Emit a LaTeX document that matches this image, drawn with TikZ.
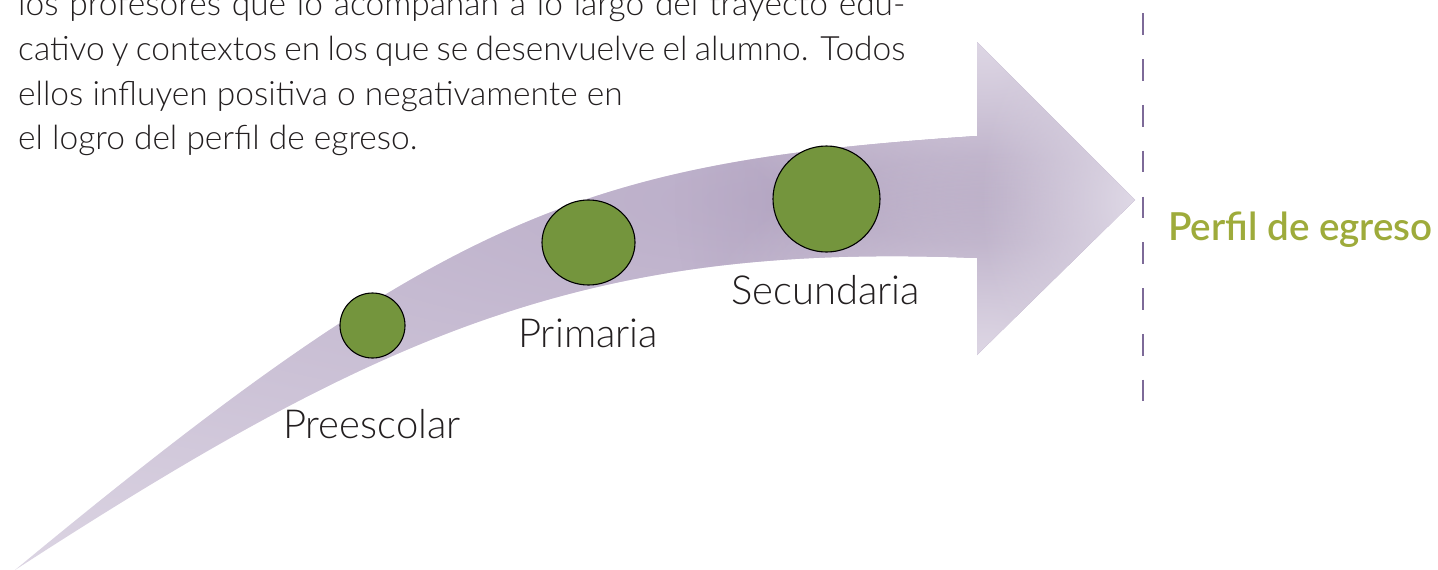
\documentclass[tikz,border=0pt]{standalone}
\usepackage{fontspec}
\usetikzlibrary{shapes.geometric,fadings}
\IfFontExistsTF{Lato Light}{\newfontfamily\lightf{Lato Light}}{\newfontfamily\lightf{Lato}}
\IfFontExistsTF{Lato Semibold}{\newfontfamily\semif{Lato Semibold}}{\newfontfamily\semif{Lato}[UprightFont=*,BoldFont=*]}
\setmainfont{Lato}
\definecolor{arlight}{HTML}{DDD6E4}
\definecolor{armid}{HTML}{BBAEC9}
\definecolor{ardark}{HTML}{A898B7}
\definecolor{dotgreen}{HTML}{74953D}
\definecolor{perfgreen}{HTML}{9EAB3B}
\definecolor{dashpurple}{HTML}{7D6A98}
\definecolor{bodytext}{HTML}{231F20}
\tikzfading[name=radfade, inner color=transparent!0, outer color=transparent!100]
\tikzset{
  dot/.style={ellipse, draw=black, line width=1.1pt, fill=dotgreen, inner sep=0pt},
  stagelabel/.style={anchor=base west, inner sep=0pt, font=\lightf\fontsize{40}{44}\selectfont, text=bodytext},
  bodyline/.style={anchor=base west, inner sep=0pt, font=\lightf\fontsize{33.5}{36}\selectfont, text=bodytext},
  goal/.style={anchor=base west, inner sep=0pt, font=\semif\fontsize{38.6}{42}\selectfont, text=perfgreen},
  divider/.style={dashpurple, line width=2.4pt, dash pattern=on 21.7pt off 24.1pt}
}
\begin{document}
\begin{tikzpicture}[x=1pt,y=-1pt]
\useasboundingbox (0,0) rectangle (1438,570);
% curved arrow with shading
\begin{scope}
\clip (15,570) .. controls (450,210) and (587,162) .. (977,136) -- (977,42) -- (1135,200) -- (977,355) -- (977,258) .. controls (590,242) and (385,330) .. (15,570) -- cycle;
\fill[arlight] (0,0) rectangle (1200,570);
\fill[armid, path fading=radfade] (780,200) ellipse (1560 and 440);
\fill[ardark, path fading=radfade] (1005,198) ellipse (330 and 330);
\fill[arlight, path fading=radfade] (985,45) ellipse (300 and 200);
\fill[arlight, path fading=radfade] (985,352) ellipse (300 and 200);
\fill[arlight!90!white, path fading=radfade] (1140,200) ellipse (160 and 240);
\end{scope}
% stage dots
\node[dot, minimum width=65pt, minimum height=65pt] (pre) at (372.5,325.5) {};
\node[dot, minimum width=93pt, minimum height=85pt] (pri) at (588.5,242.5) {};
\node[dot, minimum width=107pt, minimum height=106pt] (sec) at (826.5,199) {};
% stage labels
\node[stagelabel] (lpre) at (283,438) {Preescolar};
\node[stagelabel] (lpri) at (518,347) {Primaria};
\node[stagelabel] (lsec) at (731,304) {Secundaria};
% dashed divider
\coordinate (dtop) at (1143,13.3);
\coordinate (dbot) at (1143,401);
\draw[divider] (dtop) -- (dbot);
% goal
\node[goal] (goal) at (1168,240) {Perfil de egreso};
% body text
\node[bodyline] (b1) at (18,15) {\makebox[887pt][s]{los profesores que lo acompañan a lo largo del trayecto edu-}};
\node[bodyline] (b2) at (18,60) {\makebox[887pt][s]{cativo y contextos en los que se desenvuelve el alumno. Todos}};
\node[bodyline] (b3) at (18,105.5) {ellos influyen positiva o negativamente en};
\node[bodyline] (b4) at (18,149) {el logro del perfil de egreso.};
\end{tikzpicture}
\end{document}
